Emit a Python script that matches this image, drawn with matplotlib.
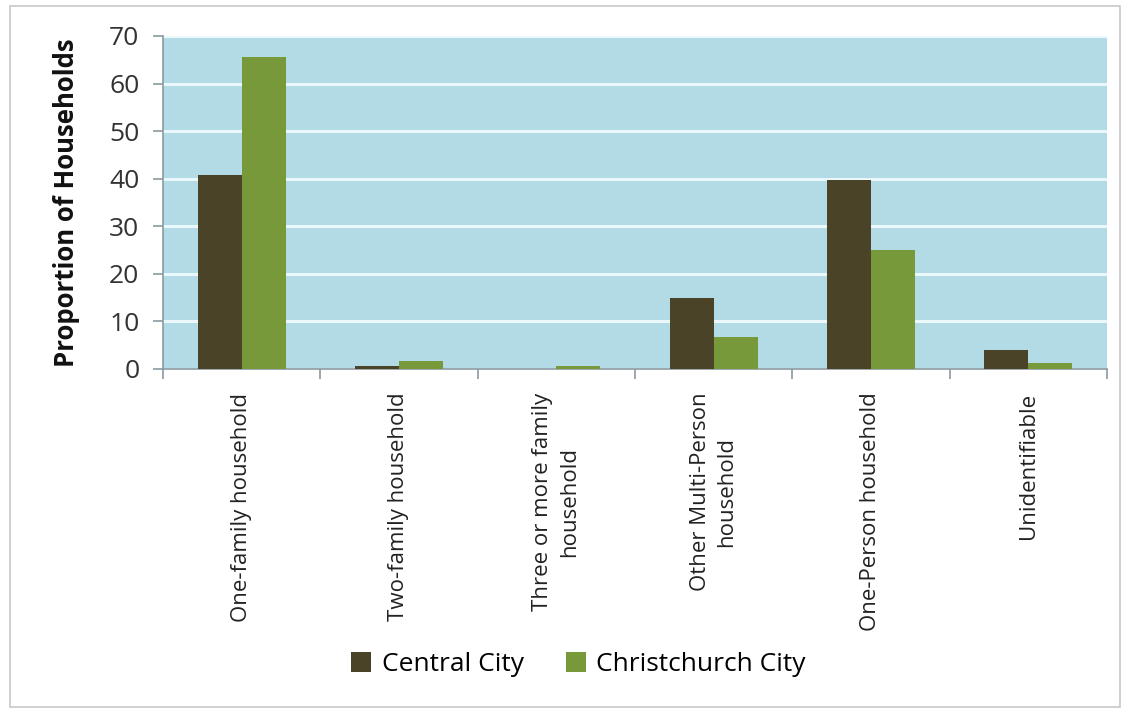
import matplotlib.pyplot as plt
import numpy as np
from matplotlib.patches import Rectangle

plt.rcParams['font.family'] = ['Open Sans', 'DejaVu Sans']

categories = ["One-family household", "Two-family household",
              "Three or more family\nhousehold", "Other Multi-Person\nhousehold",
              "One-Person household", "Unidentifiable"]
central_city = [40.8, 0.7, 0.0, 14.9, 39.7, 4.0]
christchurch_city = [65.6, 1.7, 0.6, 6.7, 25.0, 1.3]

fig = plt.figure(figsize=(11.30, 7.14), dpi=100)
ax = fig.add_axes([0.1442, 0.4832, 0.8354, 0.4664])

# light frame round the whole chart
fig.patches.append(Rectangle((0.009, 0.010), 0.982, 0.982, transform=fig.transFigure,
                             fill=False, edgecolor='#c8c8c8', linewidth=1.2))

x = np.arange(len(categories))
w = 0.28
ax.bar(x - w / 2, central_city, w, color='#4b4327', label='Central City', zorder=3)
ax.bar(x + w / 2, christchurch_city, w, color='#77993a', label='Christchurch City', zorder=3)

ax.set_facecolor('#b2dbe6')
ax.set_xlim(-0.5, len(categories) - 0.5)
ax.set_ylim(0, 70)
ax.set_yticks(range(0, 71, 10))
ax.yaxis.grid(True, color='#eaf7fb', linewidth=2.2, zorder=1)
ax.set_axisbelow(True)

for s in ['top', 'right']:
    ax.spines[s].set_visible(False)
for s in ['left', 'bottom']:
    ax.spines[s].set_color('#8a9aa0')
    ax.spines[s].set_linewidth(1.2)

ax.tick_params(axis='y', labelsize=19, colors='#8a9aa0', labelcolor='#333333',
               length=7, width=1.2, pad=10)
ax.set_xticks(np.arange(-0.5, len(categories), 1.0))
ax.set_xticklabels([])
ax.tick_params(axis='x', length=7, width=1.2, colors='#8a9aa0')

for i, lab in enumerate(categories):
    ax.annotate(lab, xy=(i, 0), xycoords=('data', 'axes fraction'),
                xytext=(0, -17), textcoords='offset points', rotation=90,
                ha='center', va='top', fontsize=16, color='#222222',
                multialignment='center', linespacing=1.35)

ax.set_ylabel('Proportion of Households', fontsize=18.5, fontweight='bold',
              color='#111111')
ax.yaxis.set_label_coords(-0.088, 0.5)

fig.legend(loc='center', bbox_to_anchor=(0.512, 0.069), ncol=2, frameon=False,
           fontsize=19, handlelength=0.75, handleheight=0.75, handletextpad=0.4,
           columnspacing=1.6)

fig.savefig('out.png', dpi=100)
